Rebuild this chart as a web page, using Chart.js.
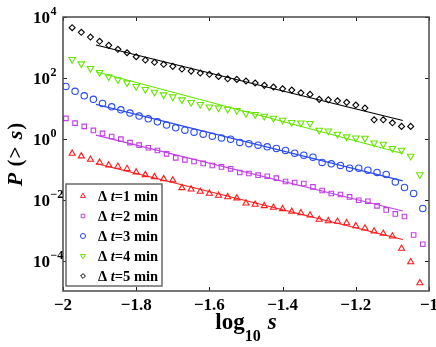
<!DOCTYPE html>
<html>
<head>
<meta charset="utf-8">
<script src="https://cdn.jsdelivr.net/npm/chart.js"></script>
<style>
  html, body { margin: 0; padding: 0; background: #fff; }
  canvas { display: block; }
</style>
</head>
<body>
<canvas id="grafico" width="436" height="347"></canvas>
<script>
// log10 s positions of the points
const xA = [-1.975,-1.95,-1.925,-1.9,-1.875,-1.85,-1.825,-1.8,-1.775,-1.75,-1.725,-1.7,-1.675,-1.65,-1.625,-1.6,-1.575,-1.55,-1.525,-1.5,-1.475,-1.45,-1.425,-1.4,-1.375,-1.35,-1.325,-1.3,-1.275,-1.25,-1.225,-1.2,-1.175,-1.15,-1.125,-1.1,-1.075,-1.05,-1.025];
const xB = [-1.992,-1.967,-1.942,-1.917,-1.892,-1.867,-1.842,-1.817,-1.792,-1.767,-1.742,-1.717,-1.692,-1.667,-1.642,-1.617,-1.592,-1.567,-1.542,-1.517,-1.492,-1.467,-1.442,-1.417,-1.392,-1.367,-1.342,-1.317,-1.292,-1.267,-1.242,-1.217,-1.192,-1.167,-1.142,-1.117,-1.092,-1.067,-1.042,-1.017];

// P(>s) for each Δt
const p1 = [0.330,0.269,0.209,0.167,0.136,0.123,0.103,0.0800,0.0652,0.0560,0.0482,0.0437,0.0244,0.0221,0.0185,0.0160,0.0137,0.0123,0.0112,0.00766,0.00693,0.00624,0.00552,0.00497,0.00408,0.00367,0.00308,0.00223,0.00200,0.00191,0.00172,0.00137,0.00115,0.000918,0.000771,0.000628,0.000248,0.0000897,0.0000183];
const p2 = [4.67,3.27,2.55,1.88,1.50,1.19,0.973,0.746,0.618,0.507,0.414,0.320,0.236,0.203,0.180,0.155,0.133,0.119,0.103,0.0782,0.0724,0.0637,0.0590,0.0508,0.0395,0.0366,0.0340,0.0263,0.0200,0.0160,0.0148,0.0123,0.00959,0.00889,0.00624,0.00460,0.00340,0.00279,0.000693,0.000343];
const p3 = [52.6,36.1,25.8,19.7,14.5,11.2,8.95,6.97,5.56,4.53,3.61,2.81,2.29,1.92,1.65,1.42,1.22,1.07,0.973,0.759,0.692,0.618,0.543,0.481,0.414,0.337,0.290,0.249,0.167,0.150,0.133,0.108,0.108,0.0929,0.0782,0.0671,0.0384,0.0251,0.0160,0.00512];
const p4 = [406,291,206,152,109,86.7,69.2,52.6,41.9,34.2,27.9,23.9,19.1,15.7,13.5,11.2,10.4,9.42,8.55,6.81,6.31,5.55,4.76,4.10,3.44,3.34,3.19,1.92,1.82,1.42,1.16,1.07,1.05,0.735,0.667,0.481,0.423,0.269,0.0662];
const p5 = [4450,3140,2200,1590,1170,867,670,495,385,324,279,239,195,167,144,131,112,93.5,89.3,78.5,67.5,56.8,49.9,43.9,39.7,32.4,28.7,19.7,19.1,17.7,15.7,12.8,10.2,4.2,4.2,3.35,2.55,2.55];

// fitted power laws (end points)
const fitX = [-1.91, -1.0715];
const fit1 = [0.155, 0.00049];
const fit2 = [1.32, 0.00427];
const fit3 = [13.5, 0.0414];
const fit4 = [159, 0.33];
const fit5 = [1200, 4.01];

const minuti = [1, 2, 3, 4, 5];
const xTicks = [-2, -1.8, -1.6, -1.4, -1.2, -1];
const xTickLabels = ['\u22122', '\u22121.8', '\u22121.6', '\u22121.4', '\u22121.2', '\u22121'];
const yTickExps = [-4, -2, 0, 2, 4];
const yTickLabels = ['\u22124', '\u22122', '0', '2', '4'];

const SERIF = '"Liberation Serif", "Times New Roman", serif';

const serie = [
  { xs: xA, ys: p1, fit: fit1, colore: '#ff1a1a', stile: 'triangle', rot: 0, r: 3.5 },
  { xs: xB, ys: p2, fit: fit2, colore: '#c23ee8', stile: 'rect', rot: 0, r: 3.2 },
  { xs: xB, ys: p3, fit: fit3, colore: '#2a4cf0', stile: 'circle', rot: 0, r: 3.2 },
  { xs: xA, ys: p4, fit: fit4, colore: '#66e600', stile: 'triangle', rot: 180, r: 3.8 },
  { xs: xA, ys: p5, fit: fit5, colore: '#000000', stile: 'rectRot', rot: 0, r: 3 }
];

const datasets = [];
serie.forEach((s, i) => {
  datasets.push({
    label: 'dt' + minuti[i],
    data: s.ys.map((v, k) => ({ x: s.xs[k], y: v })),
    showLine: false,
    pointStyle: s.stile,
    pointRotation: s.rot,
    pointRadius: s.r,
    pointBorderWidth: 1.1,
    borderColor: s.colore,
    backgroundColor: 'rgba(0,0,0,0)'
  });
  datasets.push({
    label: 'fit' + minuti[i],
    data: fitX.map((x, k) => ({ x: x, y: s.fit[k] })),
    showLine: true,
    pointRadius: 0,
    borderWidth: 1.1,
    borderColor: s.colore,
    backgroundColor: s.colore
  });
});

// frame, inward ticks, tick labels, axis titles, legend
const decorazioni = {
  id: 'decorazioni',
  afterDraw(chart) {
    const { ctx, chartArea: a, scales: { x, y } } = chart;
    ctx.save();

    ctx.strokeStyle = '#222';
    ctx.lineWidth = 1;
    ctx.beginPath();
    xTicks.forEach(v => {
      const px = Math.round(x.getPixelForValue(v)) + 0.5;
      ctx.moveTo(px, a.bottom); ctx.lineTo(px, a.bottom - 4);
      ctx.moveTo(px, a.top); ctx.lineTo(px, a.top + 4);
    });
    yTickExps.forEach(e => {
      const py = Math.round(y.getPixelForValue(Math.pow(10, e))) + 0.5;
      ctx.moveTo(a.left, py); ctx.lineTo(a.left + 4, py);
      ctx.moveTo(a.right, py); ctx.lineTo(a.right - 4, py);
    });
    ctx.stroke();

    ctx.strokeStyle = '#4a4a4a';
    ctx.lineWidth = 1.5;
    ctx.strokeRect(a.left, a.top, a.right - a.left, a.bottom - a.top);

    ctx.fillStyle = '#000';
    ctx.font = 'bold 17px ' + SERIF;
    ctx.textAlign = 'center';
    ctx.textBaseline = 'alphabetic';
    xTicks.forEach((v, i) => {
      ctx.fillText(xTickLabels[i], x.getPixelForValue(v), a.bottom + 19);
    });

    ctx.textAlign = 'left';
    yTickExps.forEach((e, i) => {
      const py = y.getPixelForValue(Math.pow(10, e));
      ctx.font = 'bold 17px ' + SERIF;
      ctx.fillText('10', a.left - 30, py + 6);
      const w = ctx.measureText('10').width;
      ctx.font = 'bold 12px ' + SERIF;
      ctx.fillText(yTickLabels[i], a.left - 30 + w + 0.5, py - 2);
    });

    // x title: log10 s
    const fBig = 'bold 23px ' + SERIF;
    const fSub = 'bold 16px ' + SERIF;
    const fIt = 'italic bold 23px ' + SERIF;
    ctx.font = fBig; const wLog = ctx.measureText('log').width;
    ctx.font = fSub; const wSub = ctx.measureText('10').width;
    ctx.font = fIt; const wS = ctx.measureText('s').width;
    const gap = 7;
    let cx = (a.left + a.right) / 2 - (wLog + wSub + gap + wS) / 2;
    const by = 329;
    ctx.font = fBig; ctx.fillText('log', cx, by); cx += wLog;
    ctx.font = fSub; ctx.fillText('10', cx, by + 12); cx += wSub + gap;
    ctx.font = fIt; ctx.fillText('s', cx, by);

    // y title: P (> s)
    const pezzi = [
      ['P', 'italic bold 22px '], [' (', 'bold 21px '], ['>', 'bold 21px '],
      [' ', 'bold 21px '], ['s', 'italic bold 22px '], [')', 'bold 21px ']
    ];
    let tot = 0;
    pezzi.forEach(p => { ctx.font = p[1] + SERIF; p.push(ctx.measureText(p[0]).width + 1); tot += p[2]; });
    ctx.save();
    ctx.translate(22, (a.top + a.bottom) / 2);
    ctx.rotate(-Math.PI / 2);
    let tx = -tot / 2;
    pezzi.forEach(p => { ctx.font = p[1] + SERIF; ctx.fillText(p[0], tx, 0); tx += p[2]; });
    ctx.restore();

    // legend
    const lx = a.left + 3, ly = 184, lw = 96, lh = 102;
    ctx.fillStyle = '#fff';
    ctx.fillRect(lx, ly, lw, lh);
    ctx.strokeStyle = '#6a6a6a';
    ctx.lineWidth = 1.5;
    ctx.strokeRect(lx, ly, lw, lh);
    serie.forEach((s, i) => {
      const ry = ly + 12 + i * 20;
      ctx.strokeStyle = s.colore;
      ctx.fillStyle = 'rgba(0,0,0,0)';
      ctx.lineWidth = 1;
      if (Chart.helpers && Chart.helpers.drawPoint) {
        Chart.helpers.drawPoint(ctx, { pointStyle: s.stile, rotation: s.rot, radius: s.r * 0.8, borderWidth: 1 }, lx + 17, ry);
      }
      ctx.fillStyle = '#000';
      let t = lx + 32;
      ctx.font = 'bold 14.5px ' + SERIF;
      ctx.fillText('\u0394 ', t, ry + 5); t += ctx.measureText('\u0394 ').width;
      ctx.font = 'italic bold 14.5px ' + SERIF;
      ctx.fillText('t', t, ry + 5); t += ctx.measureText('t').width;
      ctx.font = 'bold 14.5px ' + SERIF;
      ctx.fillText('=' + minuti[i] + ' min', t, ry + 5);
    });

    ctx.restore();
  }
};

new Chart(document.getElementById('grafico'), {
  type: 'scatter',
  data: { datasets: datasets },
  options: {
    responsive: false,
    animation: false,
    devicePixelRatio: 1,
    layout: { padding: { left: 63, right: 7, top: 17, bottom: 56 } },
    scales: {
      x: { type: 'linear', min: -2, max: -1, display: false },
      y: { type: 'logarithmic', min: 1e-5, max: 1e4, display: false }
    },
    plugins: {
      legend: { display: false },
      tooltip: { enabled: false }
    }
  },
  plugins: [decorazioni]
});
</script>
</body>
</html>
